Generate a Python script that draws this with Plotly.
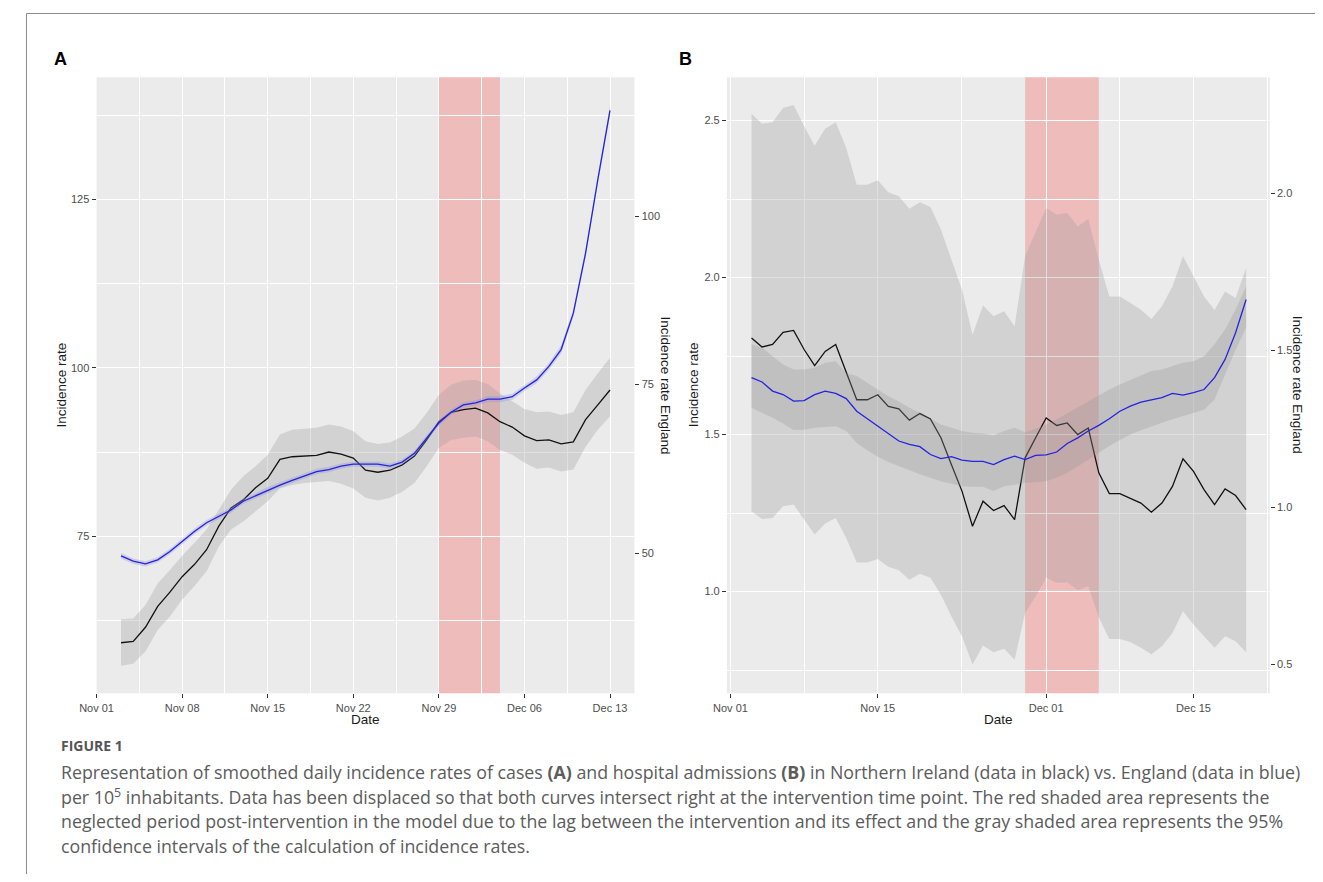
import plotly.graph_objects as go
import pandas as pd

# ---------------- data ----------------
# Panel A: smoothed daily incidence of cases (Nov 03 - Dec 13, 2020)
dates_a = pd.date_range("2020-11-03", "2020-12-13", freq="D")
ni_a = [59.2, 59.4, 61.5, 64.6, 66.7, 69.0, 70.8, 73.0, 76.5, 79.2, 80.4, 82.2, 83.6, 86.4,
        86.8, 86.9, 87.0, 87.5, 87.2, 86.6, 84.8, 84.5, 84.8, 85.6, 86.9, 89.3, 92.0, 93.4,
        93.8, 94.0, 93.3, 92.0, 91.2, 89.9, 89.2, 89.3, 88.7, 89.0, 92.3, 94.5, 96.7]
ni_a_lo = [55.8, 56.1, 57.9, 61.1, 63.1, 65.6, 67.6, 69.8, 73.5, 76.0, 77.2, 78.7, 80.2, 82.1,
           82.6, 82.9, 83.1, 83.2, 82.8, 82.1, 80.7, 80.3, 80.7, 81.6, 82.9, 85.4, 88.1, 89.3,
           89.6, 89.8, 89.1, 87.8, 87.1, 85.9, 85.0, 85.2, 84.6, 84.9, 88.3, 90.8, 92.8]
ni_a_hi = [62.7, 62.8, 64.8, 68.0, 70.0, 72.1, 74.0, 76.0, 78.9, 81.9, 83.9, 85.4, 87.1, 90.1,
           90.8, 91.0, 91.1, 91.6, 91.3, 90.6, 89.1, 88.7, 88.9, 89.8, 91.0, 93.3, 96.0, 97.5,
           98.1, 98.2, 97.6, 96.2, 95.0, 93.9, 93.4, 93.5, 93.0, 93.4, 96.7, 99.2, 101.5]
eng_a = [49.6, 48.8, 48.4, 49.0, 50.25, 51.7, 53.2, 54.5, 55.4, 56.4, 57.7, 58.5, 59.4, 60.1,
         60.8, 61.5, 62.1, 62.4, 62.9, 63.2, 63.2, 63.2, 62.9, 63.5, 64.8, 67.1, 69.3, 70.9,
         72.0, 72.3, 72.85, 72.85, 73.2, 74.5, 75.7, 77.7, 80.2, 85.6, 94.5, 105.4, 115.7]
eng_a_lo = [49.2, 48.4, 48.0, 48.6, 49.85, 51.3, 52.8, 54.1, 55.0, 56.0, 57.3, 58.1, 59.0, 59.7,
            60.4, 61.1, 61.7, 62.0, 62.5, 62.8, 62.8, 62.8, 62.5, 63.1, 64.4, 66.7, 68.9, 70.5,
            71.6, 71.9, 72.4, 72.4, 72.75, 74.05, 75.2, 77.2, 79.6, 85.0, 93.9, 104.7, 115.0]
eng_a_hi = [50.0, 49.2, 48.8, 49.4, 50.65, 52.1, 53.6, 54.9, 55.8, 56.8, 58.1, 58.9, 59.8, 60.5,
            61.2, 61.9, 62.5, 62.8, 63.3, 63.6, 63.6, 63.6, 63.3, 63.9, 65.2, 67.5, 69.7, 71.3,
            72.4, 72.7, 73.3, 73.3, 73.65, 74.95, 76.2, 78.2, 80.8, 86.2, 95.1, 106.1, 116.4]
window_a = ["2020-11-29", "2020-12-04"]

# Panel B: smoothed daily hospital admissions (Nov 03 - Dec 20, 2020)
dates_b = pd.date_range("2020-11-03", "2020-12-20", freq="D")
ni_b = [1.808, 1.779, 1.787, 1.826, 1.832, 1.771, 1.72, 1.765, 1.787, 1.70, 1.611, 1.611,
        1.627, 1.59, 1.582, 1.546, 1.567, 1.55, 1.49, 1.404, 1.32, 1.208, 1.288, 1.258, 1.274,
        1.229, 1.426, 1.49, 1.553, 1.529, 1.537, 1.50, 1.521, 1.378, 1.312, 1.312, 1.298, 1.282,
        1.253, 1.282, 1.335, 1.423, 1.383, 1.325, 1.277, 1.327, 1.306, 1.261]
ni_b_lo = [1.256, 1.231, 1.234, 1.272, 1.277, 1.231, 1.182, 1.217, 1.234, 1.171, 1.093, 1.093,
           1.104, 1.079, 1.068, 1.038, 1.057, 1.044, 0.99, 0.921, 0.858, 0.768, 0.828, 0.807,
           0.818, 0.783, 0.932, 0.985, 1.044, 1.028, 1.03, 1.004, 1.017, 0.918, 0.849, 0.849,
           0.839, 0.821, 0.80, 0.826, 0.868, 0.937, 0.895, 0.858, 0.821, 0.858, 0.842, 0.807]
ni_b_hi = [2.522, 2.49, 2.495, 2.54, 2.55, 2.482, 2.42, 2.474, 2.495, 2.413, 2.296, 2.296,
           2.31, 2.272, 2.259, 2.219, 2.24, 2.225, 2.153, 2.057, 1.962, 1.818, 1.911, 1.877,
           1.893, 1.845, 2.068, 2.142, 2.222, 2.20, 2.206, 2.163, 2.187, 2.057, 1.94, 1.94,
           1.919, 1.898, 1.868, 1.909, 1.972, 2.068, 2.004, 1.94, 1.897, 1.956, 1.935, 2.031]
eng_b = [1.414, 1.400, 1.371, 1.360, 1.339, 1.341, 1.360, 1.371, 1.364, 1.347, 1.307, 1.283,
         1.259, 1.236, 1.212, 1.201, 1.194, 1.169, 1.156, 1.162, 1.151, 1.147, 1.147, 1.137,
         1.153, 1.164, 1.153, 1.166, 1.168, 1.177, 1.204, 1.222, 1.244, 1.262, 1.283, 1.307,
         1.323, 1.336, 1.344, 1.350, 1.364, 1.358, 1.366, 1.376, 1.414, 1.472, 1.557, 1.663]
eng_b_lo = [1.318, 1.303, 1.286, 1.268, 1.247, 1.248, 1.254, 1.257, 1.259, 1.244, 1.206, 1.183,
            1.162, 1.145, 1.132, 1.118, 1.106, 1.095, 1.084, 1.076, 1.068, 1.066, 1.066, 1.053,
            1.068, 1.073, 1.079, 1.081, 1.084, 1.095, 1.111, 1.131, 1.153, 1.175, 1.196, 1.215,
            1.233, 1.246, 1.259, 1.270, 1.281, 1.291, 1.302, 1.312, 1.344, 1.423, 1.503, 1.573]
eng_b_hi = [1.520, 1.509, 1.482, 1.456, 1.440, 1.440, 1.445, 1.461, 1.466, 1.429, 1.419, 1.398,
            1.376, 1.355, 1.338, 1.318, 1.302, 1.283, 1.265, 1.254, 1.244, 1.238, 1.236, 1.230,
            1.244, 1.254, 1.240, 1.251, 1.265, 1.281, 1.302, 1.321, 1.338, 1.357, 1.376, 1.392,
            1.408, 1.421, 1.435, 1.440, 1.451, 1.461, 1.466, 1.482, 1.520, 1.567, 1.631, 1.705]
window_b = ["2020-11-29", "2020-12-06"]

ticks_a_x = ["2020-11-01", "2020-11-08", "2020-11-15", "2020-11-22", "2020-11-29", "2020-12-06", "2020-12-13"]
ticks_b_x = ["2020-11-01", "2020-11-15", "2020-12-01", "2020-12-15"]
minor_b_x = ["2020-11-08", "2020-11-23", "2020-12-08", "2020-12-22"]
ticks_a_y = [75, 100, 125]
ticks_a_y2 = [50, 75, 100]
ticks_b_y = [1.0, 1.5, 2.0, 2.5]
ticks_b_y2 = [0.5, 1.0, 1.5, 2.0]

caption_lines = [
    "Representation of smoothed daily incidence rates of cases <b>(A)</b> and hospital admissions <b>(B)</b> in Northern Ireland (data in black) vs. England (data in blue)",
    "per 10<sup>5</sup> inhabitants. Data has been displaced so that both curves intersect right at the intervention time point. The red shaded area represents the",
    "neglected period post-intervention in the model due to the lag between the intervention and its effect and the gray shaded area represents the 95%",
    "confidence intervals of the calculation of incidence rates.",
]

# ---------------- style ----------------
# page is 1323x882; the html body keeps its default 8px margin, so the
# figure itself is 16px smaller and every page position is shifted by 8px
PAGE_W, PAGE_H, OFF = 1323, 882, 8
W, H = PAGE_W - 2 * OFF, PAGE_H - 2 * OFF
FONT = "Liberation Sans, Arial, Helvetica, sans-serif"
PANEL = "#EBEBEB"
RIBBON = "rgba(153,153,153,0.30)"
RIBBON_A_ENG = "rgba(150,150,215,0.35)"
BLUE = "rgb(35,35,225)"

def px(x):
    return (x - OFF) / W

def py(y):
    return 1 - (y - OFF) / H

ax_x_a = [px(80.5), px(625.5)]
ax_x_b = [px(719.2), px(1269.2)]
ax_y = [py(693.3), py(77.3)]

fig = go.Figure()

def ribbon(x, lo, hi, xa, ya, color):
    xs = list(x) + list(x)[::-1]
    ys = list(lo) + list(hi)[::-1]
    fig.add_trace(go.Scatter(x=xs, y=ys, xaxis=xa, yaxis=ya, fill="toself", fillcolor=color,
                             mode="lines", line=dict(width=0), hoverinfo="skip", showlegend=False))

def line(x, y, xa, ya, color, w=1.3):
    fig.add_trace(go.Scatter(x=x, y=y, xaxis=xa, yaxis=ya, mode="lines",
                             line=dict(color=color, width=w), showlegend=False))

# Panel A
ribbon(dates_a, ni_a_lo, ni_a_hi, "x", "y", RIBBON)
line(dates_a, ni_a, "x", "y", "#111111")
ribbon(dates_a, eng_a_lo, eng_a_hi, "x", "y2", RIBBON_A_ENG)
line(dates_a, eng_a, "x", "y2", BLUE)
# Panel B
ribbon(dates_b, ni_b_lo, ni_b_hi, "x2", "y3", RIBBON)
line(dates_b, ni_b, "x2", "y3", "#111111")
ribbon(dates_b, eng_b_lo, eng_b_hi, "x2", "y4", RIBBON)
line(dates_b, eng_b, "x2", "y4", BLUE)

tickfont = dict(family=FONT, size=11, color="#4D4D4D")
common_x = dict(showgrid=True, gridcolor="white", gridwidth=1.2, zeroline=False, showline=False,
                ticks="outside", ticklen=4, tickcolor="#333333", tickwidth=1, tickfont=tickfont)
common_y = dict(showgrid=True, gridcolor="white", gridwidth=1.2, zeroline=False, showline=False,
                ticks="outside", ticklen=4, tickcolor="#333333", tickwidth=1, tickfont=tickfont)
sec_y = dict(showgrid=False, zeroline=False, showline=False, ticks="outside", ticklen=4,
             tickcolor="#333333", tickwidth=1, tickfont=tickfont, side="right")

DAY = 86400000
fig.update_layout(
    width=W, height=H, autosize=False,
    margin=dict(l=0, r=0, t=0, b=0),
    paper_bgcolor="white", plot_bgcolor=PANEL,
    showlegend=False,
    xaxis=dict(common_x, domain=ax_x_a, anchor="y", type="date",
               range=["2020-11-01", "2020-12-15"],
               tickmode="array", tickvals=ticks_a_x, tickformat="%b %d",
               minor=dict(tick0="2020-11-01", dtick=3.5 * DAY, showgrid=True,
                          gridcolor="white", gridwidth=0.6, ticks="")),
    yaxis=dict(common_y, domain=ax_y, anchor="x", range=[51.7, 143.1],
               tickmode="array", tickvals=ticks_a_y, ticktext=[str(v) for v in ticks_a_y],
               minor=dict(tick0=0, dtick=12.5, showgrid=True, gridcolor="white",
                          gridwidth=0.6, ticks="")),
    yaxis2=dict(sec_y, overlaying="y", anchor="x", range=[51.7 - 22.5, 143.1 - 22.5],
                tickmode="array", tickvals=ticks_a_y2, ticktext=[str(v) for v in ticks_a_y2]),
    xaxis2=dict(common_x, domain=ax_x_b, anchor="y3", type="date",
                range=["2020-10-31 16:00", "2020-12-22 06:00"],
                tickmode="array", tickvals=ticks_b_x, tickformat="%b %d",
                minor=dict(tickmode="array", tickvals=minor_b_x, showgrid=True,
                           gridcolor="white", gridwidth=0.6, ticks="")),
    yaxis3=dict(common_y, domain=ax_y, anchor="x2", range=[0.676, 2.638],
                tickmode="array", tickvals=ticks_b_y, ticktext=["%.1f" % v for v in ticks_b_y],
                minor=dict(tick0=0, dtick=0.25, showgrid=True, gridcolor="white",
                           gridwidth=0.6, ticks="")),
    yaxis4=dict(sec_y, overlaying="y3", anchor="x2", range=[0.676 - 0.2675, 2.638 - 0.2675],
                tickmode="array", tickvals=ticks_b_y2, ticktext=["%.1f" % v for v in ticks_b_y2]),
)

# intervention lag windows
fig.add_shape(type="rect", xref="x", yref="y domain", x0=window_a[0], x1=window_a[1], y0=0, y1=1,
              fillcolor="rgba(255,0,0,0.2)", line=dict(width=0), layer="below")
fig.add_shape(type="rect", xref="x2", yref="y3 domain", x0=window_b[0], x1=window_b[1], y0=0, y1=1,
              fillcolor="rgba(255,0,0,0.2)", line=dict(width=0), layer="below")

# frame lines of the figure page
fig.add_shape(type="line", xref="paper", yref="paper", x0=px(9.5), x1=px(9.5), y0=0, y1=py(13.5),
              line=dict(color="#8a8a8a", width=1))
fig.add_shape(type="line", xref="paper", yref="paper", x0=px(9.5), x1=1, y0=py(13.5), y1=py(13.5),
              line=dict(color="#8a8a8a", width=1))

def ann(text, x, y, size, color="#1a1a1a", angle=0, xanchor="center", family=FONT):
    fig.add_annotation(text=text, x=px(x), y=py(y), xref="paper", yref="paper", showarrow=False,
                       textangle=angle, xanchor=xanchor, yanchor="middle",
                       font=dict(family=family, size=size, color=color))

title_size = 13.5
ann("<b>A</b>", 44, 59, 18, "#000000")
ann("<b>B</b>", 677, 59, 18, "#000000")
ann("Incidence rate", 44, 385, title_size, angle=-90)
ann("Incidence rate England", 657, 385, title_size, angle=90)
ann("Incidence rate", 685, 385, title_size, angle=-90)
ann("Incidence rate England", 1298, 385, title_size, angle=90)
ann("Date", 353, 719, title_size)
ann("Date", 994, 719, title_size)

CAP_FONT = "Open Sans, Lato, Noto Sans, sans-serif"
ann("<b>FIGURE 1</b>", 42, 745, 14, "#555555", xanchor="left", family=CAP_FONT)
for i, t in enumerate(caption_lines):
    ann(t, 42, 772 + i * 24.5, 17.8, "#5c5c5c", xanchor="left", family=CAP_FONT)

fig.write_html("out.html", config={"displayModeBar": False})
